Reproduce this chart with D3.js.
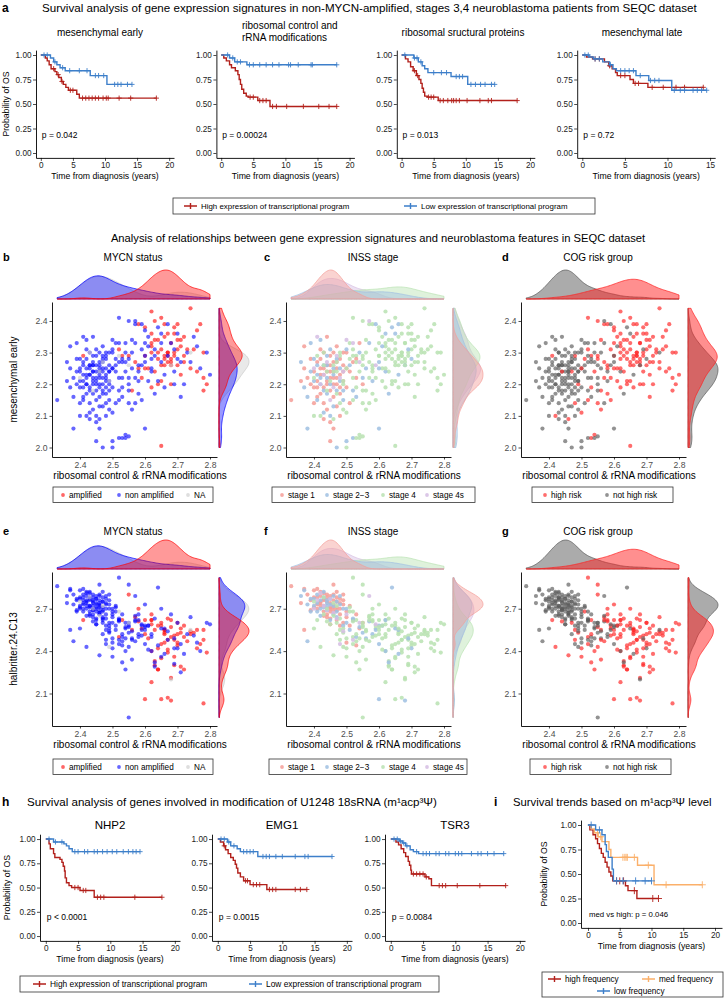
<!DOCTYPE html>
<html><head><meta charset="utf-8">
<script src="https://cdn.jsdelivr.net/npm/d3@7"></script>
<style>body{margin:0;background:#fff}svg{font-family:"Liberation Sans",Arial,sans-serif}</style>
</head><body><script>
// ---------- survival curves: steps = [time, survival after drop], end = last follow-up, cens = censor times
const mesEarlyHigh = { steps: [[0,1],[0.7,0.97],[1.0,0.94],[1.3,0.9],[1.6,0.86],[2.2,0.83],[2.5,0.8],[2.8,0.77],[3.2,0.73],[3.5,0.7],[3.9,0.67],[4.3,0.64],[5.6,0.6],[6.0,0.56]], end: 18, cens: [2.0,2.7,3.3,4.6,5.0,6.5,7.0,7.5,8.0,8.5,9.0,9.7,10.2,10.5,12.2,14.0,18.0] };
const mesEarlyLow = { steps: [[0,1],[1.5,0.97],[2.0,0.93],[2.5,0.9],[3.0,0.87],[3.8,0.84],[7.7,0.79],[10.3,0.7]], end: 14.2, cens: [0.5,1.0,2.2,3.4,4.5,6.0,7.2,8.5,9.0,9.8,11.5,12.0,12.5,13.5,14.2] };
const riboCtrlHigh = { steps: [[0,1],[0.4,0.97],[0.8,0.94],[1.3,0.9],[1.6,0.87],[2.2,0.84],[2.6,0.8],[2.8,0.75],[3.0,0.7],[3.2,0.65],[3.5,0.61],[3.9,0.58],[4.2,0.57],[5.7,0.535],[7.6,0.475]], end: 18, cens: [4.5,5.0,6.0,6.5,7.0,8.0,8.6,10.2,12.8,15.2,16.8,18.0] };
const riboCtrlLow = { steps: [[0,1],[1.3,0.97],[2.1,0.93],[4.0,0.9]], end: 18, cens: [1.0,1.8,2.5,3.0,4.4,5.0,6.0,7.0,8.0,9.0,10.5,10.8,12.0,14.0,14.2,18.0] };
const riboStructHigh = { steps: [[0,1],[0.6,0.96],[1.0,0.93],[1.4,0.88],[1.8,0.84],[2.3,0.79],[2.7,0.75],[3.0,0.71],[3.2,0.66],[3.4,0.62],[3.6,0.58],[4.0,0.57],[5.7,0.535]], end: 18, cens: [2.0,2.5,4.2,4.6,5.0,6.0,6.5,7.2,7.8,8.1,8.5,9.0,10.2,12.2,13.5,14.0,18.0] };
const riboStructLow = { steps: [[0,1],[1.9,0.97],[2.6,0.93],[3.2,0.89],[3.6,0.86],[4.1,0.82],[7.7,0.78],[10.3,0.7]], end: 14.5, cens: [0.5,2.0,2.4,3.0,5.0,6.2,7.0,8.5,9.0,9.5,10.8,11.5,12.3,13.0,14.0,14.5] };
const mesLateHigh = { steps: [[0,1],[0.5,0.98],[1.2,0.96],[2.6,0.93],[3.1,0.89],[3.5,0.86],[3.9,0.82],[4.1,0.79],[5.6,0.75],[6.0,0.71],[7.7,0.67]], end: 14.2, cens: [1.5,2.0,3.2,4.5,5.0,6.2,6.6,8.2,9.5,11.0,12.0,14.2] };
const mesLateLow = { steps: [[0,1],[0.8,0.98],[1.3,0.96],[2.4,0.93],[3.2,0.9],[3.6,0.86],[4.0,0.84],[6.3,0.79],[7.8,0.74],[10.5,0.64]], end: 14.6, cens: [0.3,0.7,1.5,2.0,3.3,4.5,5.0,5.5,6.0,6.8,8.0,8.5,9.0,10.8,11.5,12.0,13.0,13.5,14.0,14.6] };

const nhp2High = { steps: [[0,1],[0.5,0.95],[0.7,0.9],[1.2,0.85],[1.4,0.81],[2.2,0.79],[2.5,0.76],[2.7,0.72],[2.9,0.67],[3.0,0.6],[3.2,0.55],[3.6,0.52],[4.0,0.5],[5.3,0.47],[7.5,0.4]], end: 18, cens: [4.5,5.0,5.8,6.2,8.0,8.5,9.0,13.8,18.0] };
const nhp2Low = { steps: [[0,1],[1.2,0.97],[2.8,0.95],[3.2,0.93],[3.6,0.9],[4.1,0.87]], end: 14.6, cens: [0.5,1.5,2.5,4.5,5.0,6.0,6.5,7.5,8.0,8.8,9.5,10.3,11.0,12.0,12.8,13.5,14.0,14.6] };
const emg1High = { steps: [[0,1],[0.4,0.97],[0.9,0.93],[1.2,0.89],[1.6,0.85],[2.0,0.81],[2.4,0.78],[2.7,0.74],[2.9,0.7],[3.1,0.65],[3.5,0.61],[4.0,0.57],[5.0,0.53],[7.6,0.48]], end: 13.8, cens: [1.0,4.3,4.6,5.5,6.0,6.5,8.0,8.5,9.0,12.0,12.8,13.8] };
const emg1Low = { steps: [[0,1],[1.5,0.97],[2.0,0.93],[3.0,0.9],[3.5,0.87],[6.2,0.82]], end: 17.7, cens: [0.5,1.0,1.7,2.5,4.0,4.5,5.0,5.5,7.0,7.5,8.0,9.0,10.0,12.0,13.5,14.0,17.7] };
const tsr3High = { steps: [[0,1],[0.8,0.97],[1.2,0.94],[1.6,0.9],[2.0,0.86],[2.3,0.82],[2.7,0.77],[2.9,0.73],[3.1,0.68],[3.2,0.64],[5.3,0.61],[5.9,0.59],[6.3,0.52]], end: 17.8, cens: [3.5,4.0,4.5,5.0,5.5,7.5,8.0,8.5,10.3,13.8,17.8] };
const tsr3Low = { steps: [[0,1],[1.3,0.98],[1.8,0.96],[2.3,0.93],[3.0,0.89],[3.5,0.87],[4.3,0.85]], end: 17.5, cens: [0.5,1.0,1.5,2.0,2.5,4.0,5.0,5.5,6.0,7.0,7.5,8.5,9.0,10.0,10.5,11.0,12.5,13.5,14.0,15.0,16.0,17.5] };

const freqHigh = { steps: [[0,1],[0.3,0.95],[0.8,0.9],[1.2,0.86],[1.5,0.81],[1.8,0.76],[2.1,0.71],[2.4,0.67],[2.7,0.62],[3.0,0.57],[3.3,0.52],[3.6,0.48],[3.9,0.43],[5.9,0.38],[6.3,0.33],[7.7,0.25]], end: 11.1, cens: [4.5,5.0,5.6,7.3,10.2,11.1] };
const freqMed = { steps: [[0,1],[0.5,0.96],[1.0,0.92],[1.6,0.88],[2.2,0.83],[3.3,0.75],[3.6,0.67],[7.8,0.59],[10.4,0.39]], end: 18, cens: [1.5,2.0,5.5,5.8,6.0,6.2,7.3,9.5,12.3,18.0] };
const freqLow = { steps: [[0,1],[1.2,0.95],[2.2,0.9],[2.7,0.8],[2.9,0.73],[3.2,0.67],[3.8,0.55],[4.0,0.43]], end: 10.0, cens: [0.5,1.8,4.5,5.5,7.5,9.0,10.0] };

// ---------- SEQC patients: [ribosomal control & rRNA mod., mesenchymal early, halbritter.24.C13]
const ampStage4 = [[2.74,2.44,2.52],[2.62,2.43,2.62],[2.65,2.41,2.45],[2.58,2.39,2.70],[2.63,2.40,2.55],[2.77,2.39,2.45],[2.76,2.37,2.55],[2.70,2.39,2.60],[2.69,2.38,2.48],[2.60,2.38,2.62],[2.67,2.36,2.39],[2.72,2.35,2.50],[2.64,2.34,2.58],[2.63,2.34,2.30],[2.66,2.35,2.52],[2.70,2.34,2.44],[2.71,2.34,2.56],[2.68,2.33,2.62],[2.73,2.31,2.47],[2.75,2.31,2.53],[2.78,2.30,2.48],[2.62,2.32,2.66],[2.65,2.31,2.58],[2.67,2.30,2.41],[2.66,2.29,2.55],[2.68,2.28,2.50],[2.69,2.29,2.36],[2.67,2.27,2.63],[2.64,2.28,2.27],[2.70,2.26,2.52],[2.72,2.27,2.58],[2.66,2.26,2.46],[2.62,2.30,2.59],[2.60,2.29,2.52],[2.58,2.25,2.61],[2.61,2.25,2.49],[2.63,2.24,2.33],[2.59,2.22,2.56],[2.74,2.25,2.54],[2.76,2.24,2.42],[2.78,2.18,2.55],[2.79,2.20,2.39],[2.71,2.23,2.29],[2.65,2.21,2.35],[2.68,2.20,2.21],[2.55,2.29,2.80],[2.53,2.29,2.62],[2.57,2.27,2.64],[2.52,2.31,2.50],[2.62,2.19,2.40],[2.69,2.36,2.30],[2.65,2.005,2.06],[2.67,2.30,2.07],[2.78,2.22,2.03],[2.62,2.33,2.18],[2.72,2.29,2.27],[2.64,2.20,2.27],[2.71,2.32,2.53],[2.41,2.29,2.62],[2.56,2.18,2.55],[2.66,2.28,2.53],[2.67,2.29,2.48],[2.68,2.27,2.57],[2.69,2.30,2.51],[2.65,2.26,2.60],[2.70,2.31,2.46],[2.64,2.30,2.42]];
const ampStage23 = [[2.60,2.25,2.06],[2.68,2.26,2.05],[2.62,2.36,2.62],[2.66,2.39,2.55]];
const nonStage1 = [[2.33,2.15,2.86],[2.37,2.32,2.84],[2.38,2.22,2.80],[2.39,2.20,2.76],[2.40,2.24,2.83],[2.40,2.19,2.71],[2.41,2.27,2.78],[2.41,2.21,2.70],[2.42,2.25,2.74],[2.42,2.17,2.82],[2.43,2.30,2.68],[2.43,2.23,2.77],[2.43,2.14,2.72],[2.44,2.26,2.80],[2.44,2.20,2.66],[2.44,2.12,2.75],[2.45,2.29,2.71],[2.45,2.24,2.79],[2.45,2.18,2.63],[2.45,2.08,2.70],[2.46,2.27,2.76],[2.46,2.22,2.69],[2.46,2.16,2.73],[2.46,2.06,2.67],[2.47,2.25,2.62],[2.47,2.20,2.78],[2.47,2.13,2.71],[2.48,2.28,2.70],[2.48,2.23,2.66],[2.48,2.17,2.74],[2.49,2.26,2.60],[2.49,2.21,2.76],[2.50,2.30,2.64],[2.50,2.19,2.68],[2.51,2.24,2.58],[2.51,2.14,2.72],[2.52,2.27,2.62],[2.53,2.22,2.66],[2.54,2.33,2.56],[2.55,2.20,2.60],[2.39,2.28,2.69],[2.42,2.31,2.75],[2.44,2.35,2.64],[2.47,2.32,2.82],[2.40,2.14,2.78],[2.43,2.09,2.65],[2.48,2.10,2.58],[2.45,2.02,2.59],[2.37,2.25,2.55],[2.50,2.25,2.46],[2.53,2.28,2.44],[2.49,2.30,2.80],[2.41,2.16,2.84],[2.46,2.30,2.87],[2.36,2.21,2.74],[2.42,2.23,2.72],[2.43,2.19,2.76],[2.44,2.24,2.70],[2.44,2.21,2.78],[2.45,2.26,2.74],[2.45,2.22,2.68],[2.46,2.20,2.80],[2.46,2.24,2.71],[2.47,2.22,2.75],[2.47,2.27,2.69],[2.48,2.19,2.77],[2.42,2.28,2.79],[2.41,2.19,2.73],[2.49,2.24,2.73],[2.43,2.25,2.81]];
const nonStage23 = [[2.36,2.27,2.79],[2.37,2.19,2.83],[2.38,2.16,2.73],[2.38,2.06,2.47],[2.39,2.33,2.77],[2.40,2.28,2.72],[2.41,2.23,2.80],[2.41,2.15,2.68],[2.42,2.34,2.65],[2.42,2.20,2.76],[2.43,2.26,2.71],[2.43,2.11,2.82],[2.44,2.22,2.74],[2.44,2.17,2.69],[2.45,2.31,2.77],[2.45,2.10,2.62],[2.46,2.25,2.72],[2.46,2.13,2.79],[2.47,2.28,2.68],[2.47,2.00,2.64],[2.48,2.21,2.73],[2.49,2.15,2.58],[2.50,2.31,2.70],[2.50,2.02,2.60],[2.51,2.26,2.55],[2.52,2.18,2.63],[2.53,2.16,2.50],[2.54,2.30,2.57],[2.56,2.25,2.49],[2.57,2.33,2.61],[2.58,2.21,2.52],[2.59,2.39,2.55],[2.60,2.27,2.45],[2.61,2.32,2.58],[2.62,2.24,2.40],[2.63,2.17,2.32],[2.64,2.38,2.85],[2.65,2.36,2.56],[2.66,2.23,2.38],[2.60,2.06,2.58],[2.69,2.31,2.49],[2.70,2.28,2.42],[2.52,2.03,2.62],[2.55,2.22,2.53],[2.40,2.21,2.77],[2.41,2.26,2.74],[2.42,2.22,2.70],[2.43,2.18,2.78],[2.44,2.26,2.76],[2.45,2.20,2.73],[2.46,2.23,2.66],[2.47,2.18,2.75],[2.48,2.25,2.79],[2.44,2.29,2.72],[2.39,2.24,2.68],[2.49,2.18,2.70]];
const nonStage4High = [[2.52,2.41,2.92],[2.57,2.39,2.62],[2.60,2.37,2.55],[2.67,2.39,2.48],[2.70,2.36,2.60],[2.79,2.30,2.60],[2.77,2.25,2.40],[2.80,2.23,2.59],[2.71,2.16,2.45],[2.73,2.30,2.52],[2.68,2.33,2.66],[2.65,2.27,2.70],[2.63,2.29,2.63],[2.61,2.21,2.58],[2.59,2.31,2.51],[2.58,2.26,2.66],[2.56,2.34,2.48],[2.55,2.28,2.57],[2.54,2.24,2.40],[2.53,2.19,2.52],[2.52,2.15,2.45],[2.51,2.28,2.68],[2.50,2.25,2.36],[2.49,2.20,2.53],[2.48,2.14,2.48],[2.47,2.24,2.60],[2.46,2.09,2.37],[2.55,2.14,2.43],[2.56,2.12,2.34],[2.54,2.04,2.27],[2.53,2.03,2.32],[2.58,2.17,2.62],[2.62,2.25,2.50],[2.64,2.21,2.44],[2.66,2.19,2.56],[2.69,2.24,2.42],[2.72,2.20,2.38],[2.74,2.27,2.64],[2.75,2.35,2.51],[2.76,2.32,2.46],[2.60,2.33,2.73],[2.63,2.31,2.29],[2.57,2.22,2.47],[2.67,2.29,2.54],[2.61,2.35,2.41],[2.48,2.29,2.55],[2.50,2.11,2.42],[2.44,2.24,2.61],[2.42,2.10,2.43],[2.59,2.15,2.58],[2.65,2.33,2.36],[2.69,2.20,2.31],[2.71,2.27,2.25],[2.55,2.40,2.87],[2.62,2.28,2.52]];
const nonStage4Low = [[2.43,2.26,2.66],[2.45,2.21,2.59],[2.47,2.17,2.52],[2.48,2.30,2.63],[2.49,2.12,2.56],[2.50,2.00,2.49],[2.51,2.33,2.71],[2.52,2.22,2.61],[2.53,2.27,2.47],[2.55,2.18,2.58],[2.56,2.30,2.54],[2.57,2.14,2.65],[2.58,2.24,2.50],[2.60,2.29,2.57],[2.46,2.26,2.74],[2.40,2.10,2.56],[2.55,2.035,1.93],[2.54,2.03,2.49]];
const nonStage4s = [[2.41,2.35,2.76],[2.43,2.23,2.72],[2.44,2.27,2.69],[2.46,2.19,2.67],[2.47,2.29,2.63],[2.49,2.24,2.54],[2.50,2.34,2.66],[2.52,2.33,2.48],[2.54,2.27,2.60],[2.57,2.40,2.79],[2.45,2.15,2.77],[2.42,2.20,2.81],[2.40,2.25,2.70],[2.48,2.22,2.45],[2.59,2.26,2.59]];
const mycnNA = [[2.40,2.22,2.75],[2.44,2.18,2.70],[2.46,2.24,2.65],[2.49,2.21,2.43],[2.52,2.29,2.68],[2.55,2.26,2.60],[2.68,2.26,2.20],[2.74,2.30,2.55],[2.43,2.30,2.78],[2.47,2.27,2.72]];

// group memberships: MYCN status, INSS stage, COG risk
const cohorts = [
  { rows: ampStage4, mycn: "amplified", inss: "stage 4", cog: "high risk" },
  { rows: ampStage23, mycn: "amplified", inss: "stage 2\u22123", cog: "high risk" },
  { rows: nonStage1, mycn: "non amplified", inss: "stage 1", cog: "not high risk" },
  { rows: nonStage23, mycn: "non amplified", inss: "stage 2\u22123", cog: "not high risk" },
  { rows: nonStage4High, mycn: "non amplified", inss: "stage 4", cog: "high risk" },
  { rows: nonStage4Low, mycn: "non amplified", inss: "stage 4", cog: "not high risk" },
  { rows: nonStage4s, mycn: "non amplified", inss: "stage 4s", cog: "not high risk" },
  { rows: mycnNA, mycn: "NA", inss: "stage 4", cog: "not high risk" }
];
const mycnLevels = ["amplified", "non amplified", "NA"];
const inssLevels = ["stage 1", "stage 2\u22123", "stage 4", "stage 4s"];
const cogLevels = ["high risk", "not high risk"];

const RED = "#b2201b", BLUE = "#3d7fca", ORANGE = "#fbb06a";

const svg = d3.select("body").append("svg").attr("width", 725).attr("height", 999);

function txt(x, y, s, o = {}) {
  return svg.append("text").attr("x", x).attr("y", y).text(s)
    .attr("font-size", o.size || 11.5).attr("fill", o.fill || "#000")
    .attr("text-anchor", o.anchor || "start").attr("font-weight", o.bold ? "bold" : null);
}

function styleAxis(a, col) {
  a.select(".domain").attr("stroke", "#000").attr("stroke-width", 0.9);
  a.selectAll(".tick line").attr("stroke", "#000").attr("stroke-width", 0.7);
  a.selectAll(".tick text").attr("fill", col).attr("font-family", "Liberation Sans, Arial, sans-serif");
}

// ---------- Kaplan-Meier panel
function survAt(c, t) {
  let s = 1;
  for (const [tt, v] of c.steps) if (tt <= t) s = v;
  return s;
}
function drawKM(o) {
  const g = svg.append("g");
  const x = d3.scaleLinear().domain(o.xd).range([o.left, o.left + o.w]);
  const y = d3.scaleLinear().domain([-0.05, 1.05]).range([o.bottom, o.top]);
  const ax = g.append("g").attr("transform", `translate(0,${o.bottom})`)
    .call(d3.axisBottom(x).tickValues(o.xt).tickSize(3).tickSizeOuter(0).tickPadding(1.5))
    .attr("font-size", 8.2);
  styleAxis(ax, "#222");
  const ay = g.append("g").attr("transform", `translate(${o.left},0)`)
    .call(d3.axisLeft(y).tickValues([0, 0.25, 0.5, 0.75, 1]).tickFormat(d3.format(".2f")).tickSize(3).tickSizeOuter(0).tickPadding(1.5))
    .attr("font-size", 8.2);
  styleAxis(ay, "#222");
  const line = d3.line().x(d => x(d[0])).y(d => y(d[1]));
  o.curves.forEach(([c, col]) => {
    const pts = [];
    let prev = 1;
    c.steps.forEach(([t, s]) => { pts.push([t, prev], [t, s]); prev = s; });
    pts.push([c.end, prev]);
    g.append("path").attr("d", line(pts)).attr("fill", "none").attr("stroke", col).attr("stroke-width", 1.4);
    const m = o.mark || 2.6;
    g.append("path").attr("fill", "none").attr("stroke", col).attr("stroke-width", 0.9)
      .attr("d", c.cens.map(t => {
        const cx = x(t), cy = y(survAt(c, t));
        return `M${cx - m},${cy}h${2 * m}M${cx},${cy - m}v${2 * m}`;
      }).join(""));
  });
  txt((o.left + o.w / 2), o.bottom + 21, "Time from diagnosis (years)", { size: 8.7, anchor: "middle" });
  if (o.p) txt(x(0) + 1, o.pY, o.p, { size: o.pSize || 8.5 });
  if (o.ytitle) {
    svg.append("text").attr("transform", `translate(${o.ytitle},${(o.top + o.bottom) / 2}) rotate(-90)`)
      .attr("text-anchor", "middle").attr("font-size", 8.7).text("Probability of OS");
  }
}

function kmLegend(bx, by, bw, bh, items, size) {
  svg.append("rect").attr("x", bx).attr("y", by).attr("width", bw).attr("height", bh)
    .attr("fill", "#fff").attr("stroke", "#333").attr("stroke-width", 0.8);
  items.forEach(([lx, ly, col, label]) => {
    svg.append("path").attr("d", `M${lx},${ly}h13M${lx + 6.5},${ly - 3}v6`).attr("stroke", col).attr("stroke-width", 1.4);
    txt(lx + 17, ly + 3, label, { size: size });
  });
}

// ---------- panel a
txt(2, 12, "a", { size: 12, bold: true });
txt(42, 11.5, "Survival analysis of gene expression signatures in non-MYCN-amplified, stages 3,4 neuroblastoma patients from SEQC dataset", { size: 11.6 });
const aPanels = [
  { hi: mesEarlyHigh, lo: mesEarlyLow, p: "p = 0.042", xd: [-0.75, 20.75], xt: [0, 5, 10, 15, 20] },
  { hi: riboCtrlHigh, lo: riboCtrlLow, p: "p = 0.00024", xd: [-0.75, 20.75], xt: [0, 5, 10, 15, 20] },
  { hi: riboStructHigh, lo: riboStructLow, p: "p = 0.013", xd: [-0.75, 20.75], xt: [0, 5, 10, 15, 20] },
  { hi: mesLateHigh, lo: mesLateLow, p: "p = 0.72", xd: [-0.6, 15.6], xt: [0, 5, 10, 15] }
];
aPanels.forEach((p, i) => {
  const left = 36 + i * 180.4;
  drawKM({ left, w: 138, top: 50.1, bottom: 157.9, xd: p.xd, xt: p.xt, curves: [[p.hi, RED], [p.lo, BLUE]],
    p: p.p, pY: 138, ytitle: i === 0 ? 9 : null });
});
txt(100, 36, "mesenchymal early", { size: 10, anchor: "middle" });
txt(242, 29, "ribosomal control and", { size: 10 });
txt(242, 41, "rRNA modifications", { size: 10 });
txt(463, 36, "ribosomal sructural proteins", { size: 10, anchor: "middle" });
txt(642, 36, "mesenchymal late", { size: 10, anchor: "middle" });
kmLegend(173, 198, 422, 16, [[184, 206, RED, "High expression of transcriptional program"], [404, 206, BLUE, "Low expression of transcriptional program"]], 7.9);

txt(378, 242, "Analysis of relationships between gene expression signatures and neuroblastoma features in SEQC dataset", { size: 11.2, anchor: "middle" });

// ---------- marginal scatter panels
const patients = cohorts.flatMap(c => c.rows.map(r => ({ x: r[0], y1: r[1], y2: r[2], mycn: c.mycn, inss: c.inss, cog: c.cog })));

function bwNrd0(v) {
  const s = v.slice().sort(d3.ascending);
  const sd = d3.deviation(s) || 0.05;
  const iqr = d3.quantile(s, 0.75) - d3.quantile(s, 0.25);
  const lo = Math.min(sd, iqr / 1.34) || sd;
  return 0.9 * lo * Math.pow(s.length, -0.2);
}
// density evaluated over the full data range, like geom_density
function kde(v, range) {
  const bw = bwNrd0(v), [mn, mx] = range;
  return d3.range(0, 121).map(i => {
    const t = mn + (mx - mn) * i / 120;
    return [t, d3.mean(v, u => Math.exp(-0.5 * ((t - u) / bw) ** 2)) / (bw * Math.sqrt(2 * Math.PI))];
  });
}

const schemes = {
  mycn: { levels: mycnLevels, colors: ["#ff0000", "#0000ff", "#c8c8c8"], op: 0.6, dop: 0.4, title: "MYCN status" },
  inss: { levels: inssLevels, colors: ["#f49d98", "#9fbfe2", "#b9e2b2", "#d5bde3"], op: 0.85, dop: 0.45, title: "INSS stage" },
  cog: { levels: cogLevels, colors: ["#ff1f1f", "#585858"], op: 0.65, dop: 0.5, title: "COG risk group" }
};

function drawScatter(o) {
  const sc = schemes[o.key];
  const g = svg.append("g");
  const x = d3.scaleLinear().domain([2.314, 2.8215]).range([o.left, o.left + 165]);
  const y = d3.scaleLinear().domain(o.yd).range([o.bottom, o.top]);
  const col = d3.scaleOrdinal().domain(sc.levels).range(sc.colors);
  // marginal densities (drawn last level first, so the first level sits on top)
  const groups = sc.levels.map(l => patients.filter(p => p[o.key] === l)).filter(a => a.length > 1).reverse();
  const xr = d3.extent(patients, p => p.x), yr = d3.extent(patients, p => p[o.yk]);
  const topD = groups.map(a => ({ l: a[0][o.key], d: kde(a.map(p => p.x), xr) }));
  const rightD = groups.map(a => ({ l: a[0][o.key], d: kde(a.map(p => p[o.yk]), yr) }));
  const hTop = d3.scaleLinear().domain([0, d3.max(topD, s => d3.max(s.d, d => d[1]))]).range([0, 29]);
  const hRight = d3.scaleLinear().domain([0, d3.max(rightD, s => d3.max(s.d, d => d[1]))]).range([0, 30]);
  const yb = o.top - 3, xb = o.left + 167;
  topD.forEach(s => {
    g.append("path").attr("d", d3.area().x(d => x(d[0])).y0(yb).y1(d => yb - hTop(d[1]))(s.d))
      .attr("fill", col(s.l)).attr("fill-opacity", sc.dop).attr("stroke", col(s.l)).attr("stroke-width", 0.7);
  });
  rightD.forEach(s => {
    g.append("path").attr("d", d3.area().y(d => y(d[0])).x0(xb).x1(d => xb + hRight(d[1]))(s.d))
      .attr("fill", col(s.l)).attr("fill-opacity", sc.dop).attr("stroke", col(s.l)).attr("stroke-width", 0.7);
  });
  // points
  g.append("g").selectAll("circle").data(patients).join("circle")
    .attr("cx", d => x(d.x)).attr("cy", d => y(d[o.yk])).attr("r", 2.1)
    .attr("fill", d => col(d[o.key])).attr("fill-opacity", sc.op);
  const ax = g.append("g").attr("transform", `translate(0,${o.bottom})`)
    .call(d3.axisBottom(x).tickValues([2.4, 2.5, 2.6, 2.7, 2.8]).tickFormat(d3.format(".1f")).tickSize(2.5).tickSizeOuter(0).tickPadding(2))
    .attr("font-size", 8.6);
  styleAxis(ax, "#4d4d4d");
  const ay = g.append("g").attr("transform", `translate(${o.left},0)`)
    .call(d3.axisLeft(y).tickValues(o.yt).tickFormat(d3.format(".1f")).tickSize(2.5).tickSizeOuter(0).tickPadding(2))
    .attr("font-size", 8.6);
  styleAxis(ay, "#4d4d4d");
  txt(o.letterX, o.titleY, o.letter, { size: 11, bold: true });
  txt(o.titleX, o.titleY, sc.title, { size: 10, anchor: "middle" });
  txt(o.left + 88, o.bottom + 22, "ribosomal control & rRNA modifications", { size: 10, anchor: "middle" });
  if (o.ytitle) {
    svg.append("text").attr("transform", `translate(17,${(o.top + o.bottom) / 2}) rotate(-90)`)
      .attr("text-anchor", "middle").attr("font-size", 10).text(o.ytitle);
  }
  // legend
  svg.append("rect").attr("x", o.leg[0]).attr("y", o.legY).attr("width", o.leg[1] - o.leg[0]).attr("height", 15.5)
    .attr("fill", "#fff").attr("stroke", "#333").attr("stroke-width", 0.8);
  sc.levels.forEach((l, i) => {
    svg.append("circle").attr("cx", o.legItems[i]).attr("cy", o.legY + 8).attr("r", 1.9).attr("fill", col(l)).attr("fill-opacity", sc.op);
    txt(o.legItems[i] + 6, o.legY + 11, l, { size: 8.2 });
  });
}

const keys = ["mycn", "inss", "cog"];
const lefts = [52, 286, 521];
const rows = [
  { top: 302, bottom: 457, yd: [1.97, 2.46], yt: [2.0, 2.1, 2.2, 2.3, 2.4], yk: "y1", titleY: 261, legY: 487, ytitle: "mesenchymal early", letters: ["b", "c", "d"],
    legs: [[53, 213], [272, 475], [532, 673]] },
  { top: 572, bottom: 726, yd: [1.87, 2.96], yt: [2.1, 2.4, 2.7], yk: "y2", titleY: 535, legY: 759, ytitle: "halbritter.24.C13", letters: ["e", "f", "g"],
    legs: [[53, 213], [269, 467], [530, 671]] }
];
const legItems = [[63, 119, 188], [282, 327, 383, 427], [545, 607]];
const titleXs = [133, 373, 598];
const letterXs = [3, 264, 502];
rows.forEach(r => keys.forEach((k, i) => drawScatter({
  key: k, left: lefts[i], top: r.top, bottom: r.bottom, yd: r.yd, yt: r.yt, yk: r.yk,
  letter: r.letters[i], letterX: letterXs[i], titleX: titleXs[i], titleY: r.titleY,
  ytitle: i === 0 ? r.ytitle : null, leg: r.legs[i], legY: r.legY, legItems: legItems[i]
})));

// ---------- panel h
txt(2, 806, "h", { size: 12, bold: true });
txt(27, 806, "Survival analysis of genes involved in modification of U1248 18sRNA (m\u00b9acp\u00b3\u03a8)", { size: 11.6 });
const hPanels = [
  { name: "NHP2", hi: nhp2High, lo: nhp2Low, p: "p < 0.0001", left: 40 },
  { name: "EMG1", hi: emg1High, lo: emg1Low, p: "p = 0.0015", left: 212 },
  { name: "TSR3", hi: tsr3High, lo: tsr3Low, p: "p = 0.0084", left: 385 }
];
hPanels.forEach((p, i) => {
  drawKM({ left: p.left, w: 140, top: 834.2, bottom: 940.9, xd: [-0.9, 20.8], xt: [0, 5, 10, 15, 20],
    curves: [[p.hi, RED], [p.lo, BLUE]], p: p.p, pY: 920, ytitle: i === 0 ? 10 : null });
  txt(p.left + 70, 829, p.name, { size: 11.5, anchor: "middle" });
});
kmLegend(20, 976, 419, 16, [[33, 984, RED, "High expression of transcriptional program"], [249, 984, BLUE, "Low expression of transcriptional program"]], 8.4);

// ---------- panel i
txt(494, 806, "i", { size: 12, bold: true });
txt(513, 806, "Survival trends based on m\u00b9acp\u00b3\u03a8 level", { size: 11.3 });
drawKM({ left: 581, w: 141, top: 820.1, bottom: 927.9, xd: [-1.1, 21.1], xt: [0, 5, 10, 15, 20],
  curves: [[freqHigh, RED], [freqMed, ORANGE], [freqLow, BLUE]], p: "med vs high: p = 0.046", pY: 917, pSize: 7.8, ytitle: 547, mark: 3.5 });
svg.append("rect").attr("x", 542).attr("y", 972).attr("width", 181).attr("height", 25)
  .attr("fill", "#fff").attr("stroke", "#333").attr("stroke-width", 0.8);
[[548, 979, RED, "high frequency"], [642, 979, ORANGE, "med frequency"], [597, 991, BLUE, "low frequency"]].forEach(([lx, ly, c, l]) => {
  svg.append("path").attr("d", `M${lx},${ly}h13M${lx + 6.5},${ly - 3}v6`).attr("stroke", c).attr("stroke-width", 1.4);
  txt(lx + 17, ly + 3, l, { size: 8.2 });
});
</script></body></html>
